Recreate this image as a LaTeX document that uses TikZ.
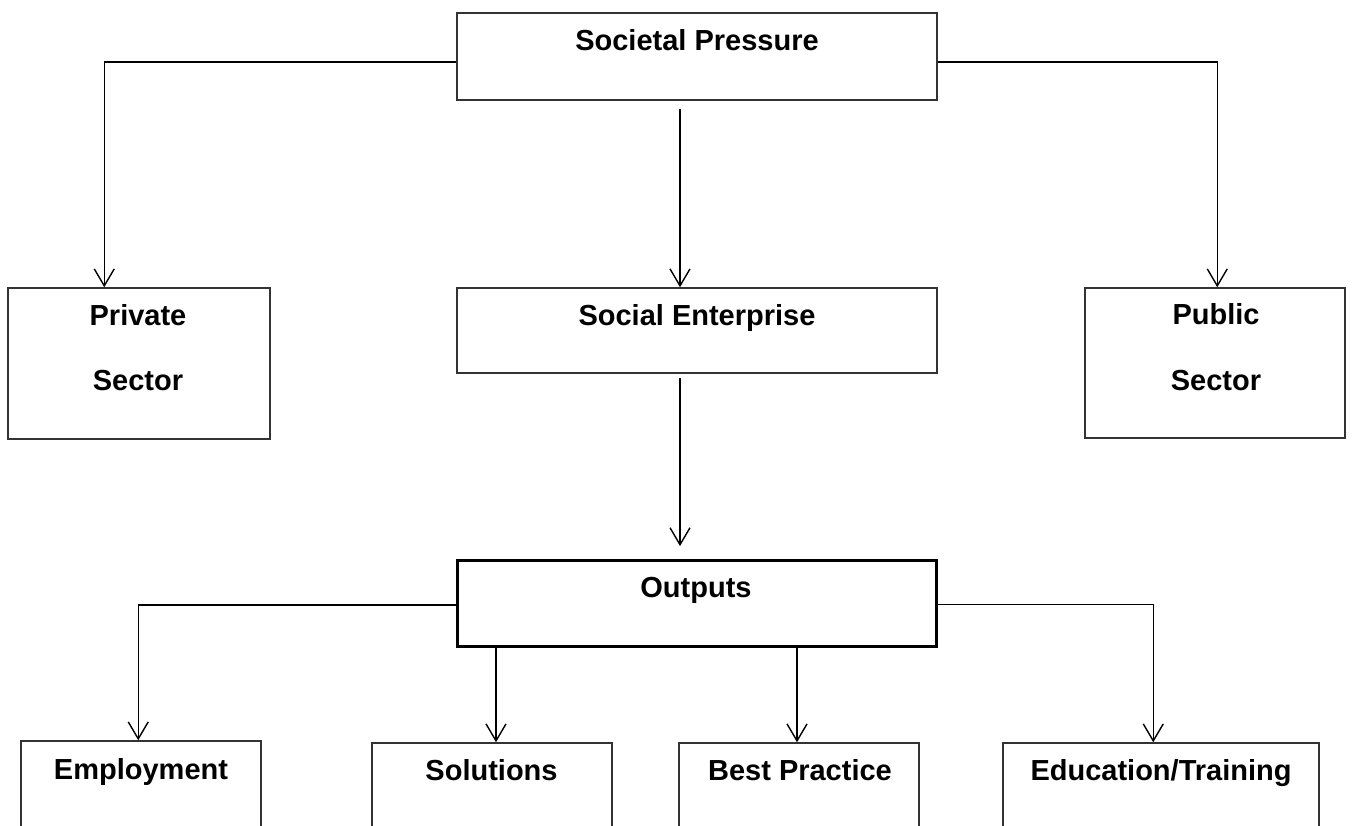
\documentclass[tikz,border=0pt]{standalone}
\usepackage{fontspec}
\setmainfont{Liberation Sans}
\usetikzlibrary{arrows.meta,calc}
\begin{document}
\begin{tikzpicture}[x=1pt,y=-1pt,
  box/.style={draw=black!80,line width=1.5pt,rectangle,inner sep=0pt},
  thickbox/.style={draw=black,line width=2.8pt,rectangle,inner sep=0pt},
  lbl/.style={font=\fontsize{29}{34}\selectfont\bfseries,anchor=base,inner sep=0pt},
  arr/.style={draw=black,line width=1.4pt,-{Straight Barb[length=17pt,width=20pt,line width=1.4pt]}}]
\useasboundingbox (0,0) rectangle (1354,826);
\clip (0,0) rectangle (1354,826);
\fill[white] (0,0) rectangle (1354,826);
% boxes
\node[box,minimum width=480pt,minimum height=87pt] (sp) at (697,56.5) {};
\node[box,minimum width=262pt,minimum height=151pt] (priv) at (139,363.5) {};
\node[box,minimum width=480pt,minimum height=85pt] (se) at (697,330.5) {};
\node[box,minimum width=260pt,minimum height=150pt] (pub) at (1215,363) {};
\node[thickbox,minimum width=479pt,minimum height=86pt] (out) at (697,603.5) {};
\node[box,minimum width=240pt,minimum height=140pt] (emp) at (141,811) {};
\node[box,minimum width=240pt,minimum height=140pt] (sol) at (492,813) {};
\node[box,minimum width=240pt,minimum height=140pt] (bp) at (799,813) {};
\node[box,minimum width=316pt,minimum height=140pt] (edu) at (1161,813) {};
% labels
\node[lbl] (spt) at (697,50.5) {Societal Pressure};
\node[lbl] (privt1) at (138,325) {Private};
\node[lbl] (privt2) at (138,390) {Sector};
\node[lbl] (set) at (697,325) {Social Enterprise};
\node[lbl] (pubt1) at (1216,324) {Public};
\node[lbl] (pubt2) at (1216,390) {Sector};
\node[lbl] (outt) at (696,597) {Outputs};
\node[lbl] (empt) at (141,779) {Employment};
\node[lbl] (solt) at (491.5,780) {Solutions};
\node[lbl] (bpt) at (800,780) {Best Practice};
\node[lbl] (edut) at (1161,780) {Education/Training};
% connectors
\draw[arr] ([yshift=-5.5pt]sp.west) -| ([xshift=97pt]priv.north west);
\draw[arr] ([yshift=-5.5pt]sp.east) -| ([xshift=133pt]pub.north west);
\draw[arr] ([xshift=-17pt,yshift=-8pt]sp.south) -- ([xshift=-17pt]se.north);
\draw[arr] ([xshift=-17pt,yshift=-4pt]se.south) -- ([xshift=-17pt,yshift=13pt]out.north);
\draw[arr] ([yshift=-1.5pt]out.west) -| ([xshift=118pt]emp.north west);
\draw[arr] ([yshift=-1pt]out.east) -| ([xshift=151pt]edu.north west);
\draw[arr] ([xshift=-201pt]out.south) -- ([xshift=-201pt]out.south |- sol.north);
\draw[arr] ([xshift=100pt]out.south) -- ([xshift=100pt]out.south |- bp.north);
\end{tikzpicture}
\end{document}
